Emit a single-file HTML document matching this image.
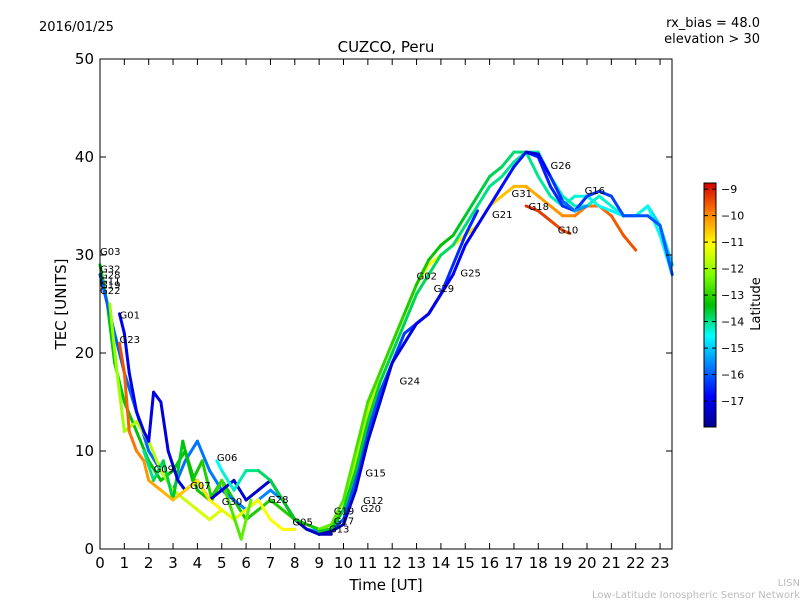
<!DOCTYPE html>
<html><head><meta charset="utf-8"><style>
body{margin:0;background:#fff;width:800px;height:600px;overflow:hidden;font-family:"Liberation Sans","DejaVu Sans",sans-serif}
svg text{font-family:"DejaVu Sans","Liberation Sans",sans-serif}
</style></head><body>
<svg id="c" width="800" height="600">
<text x="39" y="31" font-size="13">2016/01/25</text>
<text x="760" y="27" font-size="13" text-anchor="end">rx_bias = 48.0</text>
<text x="760" y="43" font-size="13" text-anchor="end">elevation &gt; 30</text>
<text x="386" y="52" font-size="15" text-anchor="middle">CUZCO, Peru</text>
<text x="386" y="590" font-size="15" text-anchor="middle">Time [UT]</text>
<text x="66" y="304" font-size="15" text-anchor="middle" transform="rotate(-90 66 304)">TEC [UNITS]</text>
<text x="760" y="304" font-size="13" text-anchor="middle" transform="rotate(-90 760 304)">Latitude</text>
<text x="800" y="586" font-size="10" fill="#bbb" text-anchor="end">LISN</text>
<text x="800" y="598" font-size="10" fill="#bbb" text-anchor="end">Low-Latitude Ionospheric Sensor Network</text>
<g id="marks"></g>
<rect x="100" y="59" width="572" height="490" fill="none" stroke="#000"/>
<g id="axes"></g>
<defs><linearGradient id="jet" x1="0" y1="1" x2="0" y2="0">
<stop offset="0" stop-color="#00008f"/><stop offset="0.125" stop-color="#0000ff"/><stop offset="0.375" stop-color="#00ffff"/><stop offset="0.5" stop-color="#00c000"/><stop offset="0.625" stop-color="#80ff00"/><stop offset="0.75" stop-color="#ffff00"/><stop offset="0.875" stop-color="#ff8000"/><stop offset="1" stop-color="#d00000"/></linearGradient></defs>
<rect x="704" y="183" width="12" height="244" fill="url(#jet)" stroke="#000"/>
<g id="cbar"></g>
</svg>
<script>
const xTicks=[0,1,2,3,4,5,6,7,8,9,10,11,12,13,14,15,16,17,18,19,20,21,22,23];
const yTicks=[0,10,20,30,40,50];
const cbTicks=[-9,-10,-11,-12,-13,-14,-15,-16,-17];
const hours=[9,9.5,10,10.5,11,11.5,12,12.5,13,13.5,14,14.5,15,15.5,16,16.5,17,17.5,18,18.5,19,19.5,20,20.5,21,21.5,22,22.5,23,23.5];
const g03T=[0,0.3,0.6,1,1.5,2,2.5,3,3.5,4,4.5,5,5.5,6,6.5,7,7.5,8,8.5,9,9.5];
const g03V=[29,25,19,15,12,9,7,8,10,6,5,7,5,3,4,5,4,3,2.5,2,2];
const g32T=[0,0.5,1,1.5,2,2.5,3,3.5,4,4.5,5,5.5,6,6.5,7,7.5,8,8.5,9];
const g32V=[28,23,18,14,10,8,6,9,11,8,6,5,4,5,6,5,3,2,1.8];
const g01T=[0.8,1,1.2,1.5,1.8,2,2.2,2.5,2.8,3.2,3.5,4,4.5,5,5.5,6,6.5,7,7.5,8,8.5,9,9.5];
const g01V=[24,22,18,14,12,11,16,15,10,7,6,7,5,6,7,5,6,7,5,3,2,1.5,1.5];
const g23T=[0.8,1,1.2,1.5,1.8,2,2.5,3,3.5,4,4.5,5];
const g23V=[21,18,12,10,9,7,6,5,6,7,5,4];
const g06T=[4.8,5,5.5,6,6.5,7,7.5,8,8.5,9,9.5];
const g06V=[9,8,6,8,8,7,5,3,2.5,2,2];
const g12T=[0.4,0.7,1,1.5,2,2.5,3,3.5,4,4.5,5,5.5,6,6.5,7,7.5,8];
const g12V=[25,18,12,13,11,8,6,5,4,3,4,3,4,5,3,2,2];
const g09T=[1.8,2.2,2.6,3,3.4,3.8,4.2,4.6,5,5.4,5.8,6.2];
const g09V=[10,7,9,5,11,7,9,5,7,4,1,5];
const g10T=[17.5,18,18.5,19,19.3];
const g10V=[35,34.5,33.5,32.5,32.2];
const g26T=[17.5,18,18.5,19,19.5,20];
const g26V=[40.5,40.3,38,35.5,34.5,35];
const dayA=[1.8,2,4,8,13,17,20,23,26,28,30,31,33,35,37,38,39.5,40.5,40.5,38,36,35,35,36,35,34,34,35,32,28];
const dayB=[1.5,1.8,2.5,6,11,15,19,21,23,24,26,28,31,33,35,37,39,40.5,40,37,35,34.5,36,36.5,36,34,34,34,33,28];
const dayC=[2,2.5,4,9,14,18,21,24,27,29,30,31,32,33,35,36,37,37,36,35,34,34,35,35,34,32,30.5];
const dayD=[1.5,2,3,7,12,16,19,22,23,24,26,29,32,34.5];
const dayE=[2,2.5,5,10,15,18,21,24,27,29.5,31,32,34,36,38,39,40.5,40.5,38,36,35,36,36,35,34.5,34,34,35,33,29];
const tracks=[
 {n:'g03',t:g03T,v:g03V,la:[-13.5,-13]},{n:'g32',t:g32T,v:g32V,la:[-16,-15.5]},
 {n:'g12n',t:g12T,v:g12V,la:[-12,-11]},{n:'g09',t:g09T,v:g09V,la:[-14,-12.5]},{n:'g01',t:g01T,v:g01V,la:[-17,-17.5]},
 {n:'g23',t:g23T,v:g23V,la:[-9.5,-11]},{n:'g06',t:g06T,v:g06V,la:[-14.5,-13]},
 {n:'day-c',t:hours.slice(0,27),v:dayC,la:[-12,-9.5]},{n:'day-d',t:hours.slice(0,14),v:dayD,la:[-16,-16.5]},
 {n:'day-e',t:hours,v:dayE,la:[-12.5,-15]},{n:'day-a',t:hours,v:dayA,la:[-13.5,-14.5]},
 {n:'day-b',t:hours,v:dayB,la:[-17.5,-16]},{n:'g10',t:g10T,v:g10V,la:[-9.2,-9.5]},{n:'g26',t:g26T,v:g26V,la:[-17.3,-15.5]}];
const labels=[['G03',0,30],['G32',0,28.2],['G28',0,27.6],['G11',0,27],['G19',0,26.6],['G22',0,26],['G01',0.8,23.5],['G23',0.8,21],['G09',2.2,7.8],['G07',3.7,6.1],['G06',4.8,9],['G30',5,4.5],['G28',6.9,4.7],['G05',7.9,2.4],['G19',9.6,3.5],['G17',9.6,2.5],['G13',9.4,1.7],['G20',10.7,3.8],['G12',10.8,4.6],['G15',10.9,7.4],['G24',12.3,16.8],['G02',13,27.5],['G29',13.7,26.2],['G25',14.8,27.8],['G21',16.1,33.8],['G31',16.9,35.9],['G18',17.6,34.6],['G10',18.8,32.2],['G26',18.5,38.8],['G16',19.9,36.2]];
const X=t=>100+t*24.35, Y=v=>549-v*9.8;
const CBY=l=>183+(-8.77-l)*26.5;
const stopsF=[0,0.125,0.375,0.5,0.625,0.75,0.875,1];
const stopsC=[[0,0,143],[0,0,255],[0,255,255],[0,192,0],[128,255,0],[255,255,0],[255,128,0],[208,0,0]];
function jet(l){let f=(l+17.98)/9.21;f=Math.max(0,Math.min(1,f));
 let i=0;while(i<stopsF.length-2&&f>stopsF[i+1])i++;
 const u=(f-stopsF[i])/(stopsF[i+1]-stopsF[i]);const a=stopsC[i],b=stopsC[i+1];
 return `rgb(${Math.round(a[0]+(b[0]-a[0])*u)},${Math.round(a[1]+(b[1]-a[1])*u)},${Math.round(a[2]+(b[2]-a[2])*u)})`;}
const NS='http://www.w3.org/2000/svg';
function mk(tag,a,p){const e=document.createElementNS(NS,tag);for(const k in a)e.setAttribute(k,a[k]);p.appendChild(e);return e;}
const M=document.getElementById('marks');
tracks.forEach(tr=>{const g=mk('g',{},M);
 
 
 const n=tr.t.length;
 for(let i=0;i<n-1;i++){const f=i/(n-2||1);const la=tr.la[0]+(tr.la[1]-tr.la[0])*f;
  const s=mk('line',{x1:X(tr.t[i]),y1:Y(tr.v[i]),x2:X(tr.t[i+1]),y2:Y(tr.v[i+1]),stroke:jet(la),'stroke-width':3,'stroke-linecap':'round'},g);
  
  }});
labels.forEach(L=>{const e=mk('text',{x:X(L[1]),y:Y(L[2]),'font-size':10},M);e.textContent=L[0];
 
 });
const A=document.getElementById('axes');
xTicks.forEach(t=>{mk('line',{x1:X(t),x2:X(t),y1:549,y2:543,stroke:'#000'},A);mk('line',{x1:X(t),x2:X(t),y1:59,y2:65,stroke:'#000'},A);
 const e=mk('text',{x:X(t),y:568,'font-size':15,'text-anchor':'middle'},A);e.textContent=t;
 
 });
yTicks.forEach(v=>{mk('line',{x1:100,x2:106,y1:Y(v),y2:Y(v),stroke:'#000'},A);mk('line',{x1:672,x2:666,y1:Y(v),y2:Y(v),stroke:'#000'},A);
 const e=mk('text',{x:94,y:Y(v)+5,'font-size':15,'text-anchor':'end'},A);e.textContent=v;
 
 });
const C=document.getElementById('cbar');
cbTicks.forEach(l=>{mk('line',{x1:704,x2:708,y1:CBY(l),y2:CBY(l),stroke:'#000'},C);mk('line',{x1:716,x2:712,y1:CBY(l),y2:CBY(l),stroke:'#000'},C);
 const e=mk('text',{x:721,y:CBY(l)+4,'font-size':11},C);e.textContent='\u2212'+(-l);
 
 });
</script>
</body></html>
